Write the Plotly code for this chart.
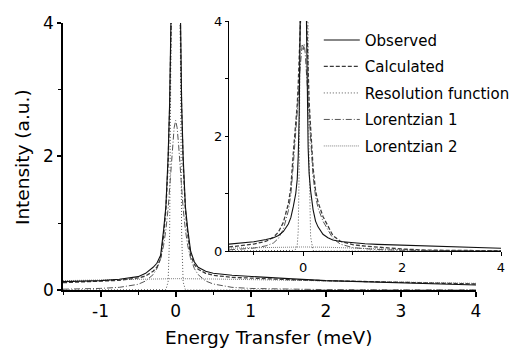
import plotly.graph_objects as go

# ---------------- data ----------------
# main panel
x_main = [-1.5, -1.25, -1.0, -0.75, -0.5, -0.4, -0.3, -0.25, -0.2, -0.16, -0.13, -0.1, -0.08, -0.06,
          -0.04, -0.02, 0.0, 0.02, 0.04, 0.06, 0.08, 0.1, 0.13, 0.16, 0.2, 0.25, 0.3, 0.4, 0.5, 0.75,
          1.0, 1.5, 2.0, 2.5, 3.0, 3.5, 4.0]
observed_main = [0.125, 0.13, 0.14, 0.16, 0.2, 0.25, 0.34, 0.4, 0.52, 0.9, 1.25, 2.0, 2.8, 4.2,
                 6.0, 7.5, 8.0, 7.6, 6.2, 4.3, 2.8, 2.0, 1.25, 0.92, 0.58, 0.42, 0.34, 0.28, 0.25, 0.22,
                 0.2, 0.17, 0.14, 0.125, 0.11, 0.095, 0.075]
calculated_main = [0.11, 0.12, 0.13, 0.145, 0.18, 0.21, 0.28, 0.34, 0.47, 0.82, 1.2, 1.9, 2.7, 4.1,
                   5.8, 7.2, 7.8, 7.2, 5.8, 4.1, 2.7, 1.9, 1.2, 0.84, 0.52, 0.38, 0.31, 0.25, 0.22, 0.19,
                   0.175, 0.155, 0.14, 0.125, 0.115, 0.1, 0.09]
resolution_main = [0, 0, 0, 0, 0, 0, 0, 0, 0, 0, 0.005, 0.12, 0.85, 4.1,
                   12.3, 24, 30, 24, 12.3, 4.1, 0.85, 0.12, 0.005, 0, 0, 0, 0, 0, 0, 0,
                   0, 0, 0, 0, 0, 0, 0]
lorentz1_main = [0.012, 0.016, 0.024, 0.04, 0.085, 0.135, 0.23, 0.32, 0.47, 0.67, 0.9, 1.22, 1.5, 1.83,
                 2.17, 2.43, 2.54, 2.43, 2.17, 1.83, 1.5, 1.22, 0.9, 0.67, 0.47, 0.32, 0.23, 0.135, 0.09, 0.04,
                 0.023, 0.01, 0.006, 0.004, 0.003, 0.002, 0.0015]
x_broad = [-1.5, -1.0, -0.5, 0.0, 0.5, 1.0, 1.5, 2.0, 2.5, 3.0, 3.5, 4.0]
lorentz2_main = [0.14, 0.15, 0.16, 0.17, 0.165, 0.155, 0.145, 0.135, 0.12, 0.11, 0.105, 0.1]

# inset panel
x_inset = [-1.5, -1.25, -1.0, -0.75, -0.6, -0.5, -0.4, -0.3, -0.25, -0.2, -0.15, -0.12, -0.1, -0.08,
           -0.06, -0.04, -0.02, 0.0, 0.02, 0.04, 0.06, 0.08, 0.1, 0.12, 0.15, 0.2, 0.25, 0.3, 0.4, 0.5,
           0.6, 0.75, 1.0, 1.25, 1.5, 2.0, 2.5, 3.0, 3.5, 4.0]
observed_inset = [0.12, 0.14, 0.16, 0.2, 0.23, 0.27, 0.34, 0.47, 0.58, 0.77, 1.0, 1.25, 1.65, 2.4,
                  3.8, 6.0, 8.0, 9.0, 8.5, 7.0, 4.4, 2.7, 1.8, 1.35, 1.05, 0.72, 0.52, 0.42, 0.29, 0.23,
                  0.19, 0.165, 0.14, 0.125, 0.115, 0.1, 0.085, 0.07, 0.058, 0.047]
calculated_inset = [0.07, 0.09, 0.12, 0.17, 0.24, 0.33, 0.5, 0.82, 1.1, 1.7, 2.2, 2.55, 2.9, 3.5,
                    4.2, 4.8, 5.2, 5.3, 5.2, 4.9, 4.3, 3.6, 3.0, 2.6, 2.15, 1.45, 1.05, 0.85, 0.6, 0.42,
                    0.27, 0.17, 0.11, 0.085, 0.065, 0.035, 0.015, 0.008, 0.005, 0.004]
resolution_inset = [0, 0, 0, 0, 0, 0, 0, 0, 0, 0.01, 0.03, 0.1, 0.35, 1.5,
                    4.2, 7.5, 10, 11, 11.2, 10.5, 8.5, 6.0, 4.0, 1.6, 0.25, 0.01, 0, 0, 0, 0,
                    0, 0, 0, 0, 0, 0, 0, 0, 0, 0]
lorentz1_inset = [0.02, 0.03, 0.05, 0.09, 0.14, 0.22, 0.38, 0.7, 0.98, 1.5, 2.0, 2.35, 2.65, 3.0,
                  3.25, 3.45, 3.6, 3.5, 3.6, 3.45, 3.2, 2.95, 2.7, 2.4, 1.95, 1.3, 0.95, 0.75, 0.52, 0.36,
                  0.22, 0.12, 0.06, 0.04, 0.025, 0.012, 0.006, 0.004, 0.003, 0.002]
lorentz2_inset = [0.05, 0.06, 0.07, 0.07, 0.065, 0.05, 0.035, 0.02, 0.01, 0.005, 0.003, 0.002]

series_names = ["Observed", "Calculated", "Resolution function", "Lorentzian 1", "Lorentzian 2"]
main_tick_vals = [-1, 0, 1, 2, 3, 4]
main_tick_text = ["-1", "0", "1", "2", "3", "4"]
inset_tick_vals = [0, 2, 4]
inset_tick_text = ["0", "2", "4"]
y_tick_vals = [0, 2, 4]
y_tick_text = ["0", "2", "4"]

# ---------------- styling ----------------
FONT = "DejaVu Sans"
styles = {
    "Observed": dict(color="#111111", width=1.1, dash="solid"),
    "Calculated": dict(color="#3a3a3a", width=1.3, dash="4px,2px"),
    "Resolution function": dict(color="#555555", width=1.0, dash="1px,2px"),
    "Lorentzian 1": dict(color="#555555", width=1.0, dash="6px,2px,1px,2px"),
    "Lorentzian 2": dict(color="#808080", width=1.0, dash="1px,1px"),
}

main_data = {
    "Observed": (x_main, observed_main),
    "Calculated": (x_main, calculated_main),
    "Resolution function": (x_main, resolution_main),
    "Lorentzian 1": (x_main, lorentz1_main),
    "Lorentzian 2": (x_broad, lorentz2_main),
}
inset_data = {
    "Observed": (x_inset, observed_inset),
    "Calculated": (x_inset, calculated_inset),
    "Resolution function": (x_inset, resolution_inset),
    "Lorentzian 1": (x_inset, lorentz1_inset),
    "Lorentzian 2": (x_broad, lorentz2_inset),
}

fig = go.Figure()
draw_order = ["Lorentzian 2", "Lorentzian 1", "Resolution function", "Calculated", "Observed"]
for name in draw_order:
    x, y = main_data[name]
    fig.add_trace(go.Scatter(x=x, y=y, mode="lines", line=styles[name], name=name,
                             showlegend=False, xaxis="x", yaxis="y", hoverinfo="skip"))
for name in draw_order:
    x, y = inset_data[name]
    fig.add_trace(go.Scatter(x=x, y=y, mode="lines", line=styles[name], name=name,
                             showlegend=True, legendgroup=name,
                             legendrank=series_names.index(name) + 1,
                             xaxis="x2", yaxis="y2", hoverinfo="skip"))

axis_common = dict(showline=True, linecolor="black", showgrid=False, zeroline=False,
                   ticks="outside", tickcolor="black", mirror=False, tickmode="array",
                   automargin=False)

fig.update_layout(
    width=516, height=356,
    margin=dict(l=63, r=15, t=21, b=66, autoexpand=False),
    paper_bgcolor="white", plot_bgcolor="rgba(0,0,0,0)",
    font=dict(family=FONT, color="black"),
    xaxis=dict(**axis_common, domain=[0, 0.9429], anchor="y", range=[-1.5, 4],
               tickvals=main_tick_vals, ticktext=main_tick_text,
               linewidth=1.5, tickwidth=1.5, ticklen=5, tickfont=dict(size=17),
               minor=dict(dtick=0.5, tick0=0, ticks="outside", ticklen=3, tickwidth=1.2, tickcolor="black")),
    yaxis=dict(**axis_common, domain=[0, 0.9926], anchor="x", range=[0, 4],
               tickvals=y_tick_vals, ticktext=y_tick_text,
               linewidth=1.5, tickwidth=1.5, ticklen=4, tickfont=dict(size=17),
               minor=dict(dtick=1, tick0=0, ticks="outside", ticklen=3, tickwidth=1.2, tickcolor="black")),
    xaxis2=dict(**axis_common, domain=[0.379, 1.0], anchor="y2", range=[-1.5, 4],
                tickvals=inset_tick_vals, ticktext=inset_tick_text,
                linewidth=1, tickwidth=1, ticklen=4, tickfont=dict(size=13),
                minor=dict(dtick=1, tick0=0, ticks="outside", ticklen=3, tickwidth=1, tickcolor="black")),
    yaxis2=dict(**axis_common, domain=[0.145, 1.0], anchor="x2", range=[0, 4],
                tickvals=y_tick_vals, ticktext=y_tick_text,
                linewidth=1, tickwidth=1, ticklen=3, tickfont=dict(size=13),
                minor=dict(dtick=1, tick0=0, ticks="outside", ticklen=3, tickwidth=1, tickcolor="black")),
    legend=dict(x=0.584, y=0.99, xanchor="left", yanchor="top", bgcolor="rgba(0,0,0,0)",
                font=dict(size=15, family=FONT), tracegroupgap=4, itemwidth=36,
                traceorder="grouped"),
    annotations=[
        dict(text="Energy Transfer (meV)", xref="paper", yref="paper", x=0.47, y=-0.175,
             xanchor="center", yanchor="middle", showarrow=False, font=dict(size=18.5, family=FONT)),
        dict(text="Intensity (a.u.)", xref="paper", yref="paper", x=-0.0925, y=0.496, textangle=-90,
             xanchor="center", yanchor="middle", showarrow=False, font=dict(size=18.5, family=FONT)),
    ],
)

fig.write_html("out.html")
